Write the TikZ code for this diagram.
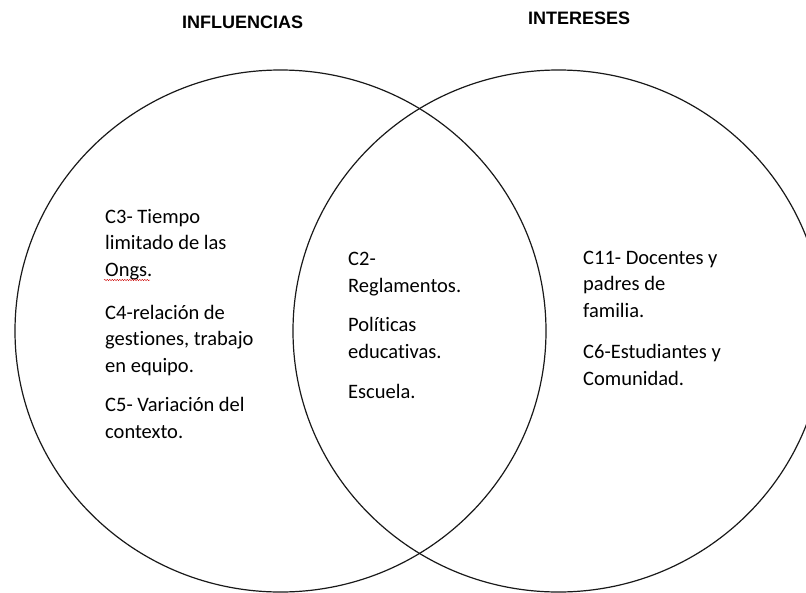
\documentclass[tikz,border=0pt]{standalone}
\usepackage{fontspec}
\setmainfont{Carlito}[Ligatures=NoCommon]
\newfontfamily\headfont{Liberation Sans}
\usetikzlibrary{decorations.pathmorphing}

\begin{document}
\begin{tikzpicture}[x=1pt, y=-1pt,
  set/.style={black!90, line width=1.2pt},
  head/.style={font=\headfont\bfseries\fontsize{18}{20}\selectfont, text=black, anchor=base west, inner sep=0pt},
  item/.style={font=\fontsize{20.5}{26.5}\selectfont, anchor=base west, align=left, inner sep=0pt}]
\useasboundingbox (0,0) rectangle (806,592);
\clip (0,0) rectangle (806,592);
% Draw the two sets and label them
\draw[set] (280.5,331) ellipse [x radius=265.5pt, y radius=261pt];
\draw[set] (558.5,331) ellipse [x radius=265.5pt, y radius=261pt];
\node[head] (influencias) at (182,28) {INFLUENCIAS};
\node[head] (intereses) at (528,24) {INTERESES};
% Left set only (node base = baseline of the last line)
\node[item] (c3) at (105,276) {C3- Tiempo\\limitado de las\\Ongs.};
\node[item] (c4) at (105,372) {C4-relación de\\gestiones, trabajo\\en equipo.};
\node[item] (c5) at (105,438) {C5- Variación del\\contexto.};
% Note: the red wavy line is the spell-check mark under Ongs
\draw[red!80!black, line width=0.4pt, decorate, decoration={snake, amplitude=0.7pt, segment length=2.5pt}] (104,280) -- (150,280);
% Both sets
\node[item] (c2) at (348,292) {C2-\\Reglamentos.};
\node[item] (politicas) at (348,358) {Políticas\\educativas.};
\node[item] (escuela) at (348,398) {Escuela.};
% Right set only
\node[item] (c11) at (583,317) {C11- Docentes y\\padres de\\familia.};
\node[item] (c6) at (583,385) {C6-Estudiantes y\\Comunidad.};
\end{tikzpicture}
\end{document}
